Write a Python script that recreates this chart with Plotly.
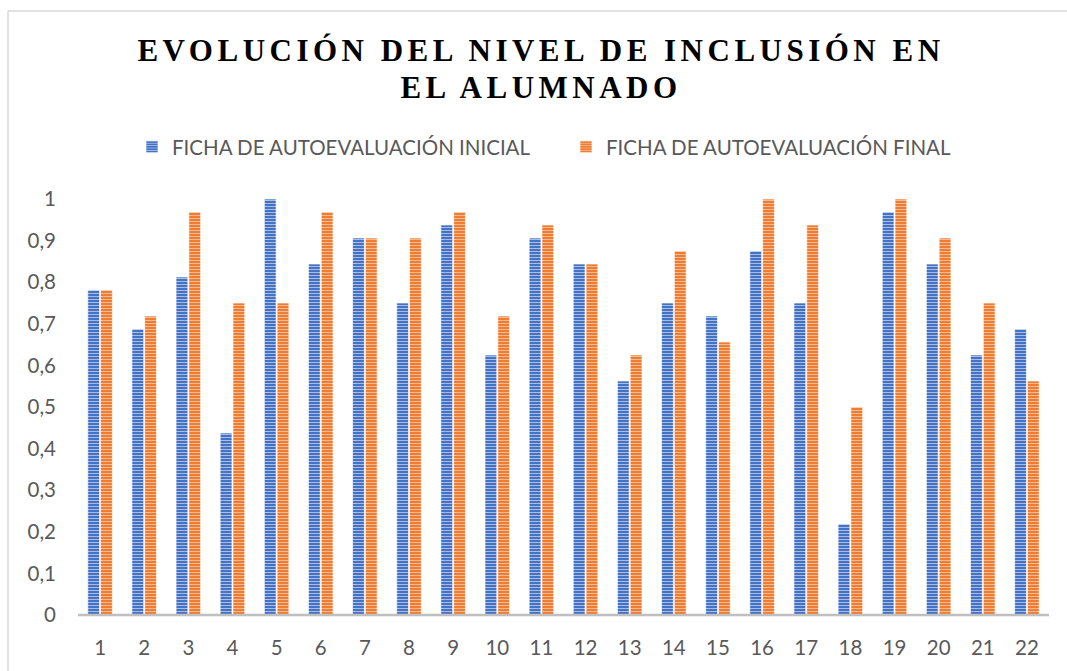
import plotly.graph_objects as go

categories = [str(i) for i in range(1, 23)]
inicial = [0.78125, 0.6875, 0.8125, 0.4375, 1.0, 0.84375, 0.90625, 0.75, 0.9375, 0.625, 0.90625,
           0.84375, 0.5625, 0.75, 0.71875, 0.875, 0.75, 0.21875, 0.96875, 0.84375, 0.625, 0.6875]
final = [0.78125, 0.71875, 0.96875, 0.75, 0.75, 0.96875, 0.90625, 0.90625, 0.96875, 0.71875, 0.9375,
         0.84375, 0.625, 0.875, 0.65625, 1.0, 0.9375, 0.5, 1.0, 0.90625, 0.75, 0.5625]
y_ticks = [0, 0.1, 0.2, 0.3, 0.4, 0.5, 0.6, 0.7, 0.8, 0.9, 1]
series_names = ["FICHA DE AUTOEVALUACIÓN INICIAL", "FICHA DE AUTOEVALUACIÓN FINAL"]
title_text = "EVOLUCIÓN DEL NIVEL DE INCLUSIÓN EN<br>EL ALUMNADO"

W, H = 1067, 671
L, R, T, B = 78, 1049, 199, 615

def px(x):
    return (x - L) / (R - L)

def py(y):
    return (B - y) / (B - T)

fig = go.Figure()
fig.add_trace(go.Bar(
    x=categories, y=inicial, name=series_names[0],
    marker=dict(color="#4472C4",
                line=dict(color="rgba(255,255,255,0.8)", width=0.8),
                pattern=dict(shape="-", fgcolor="#a8bde6", bgcolor="#4472C4",
                             size=3, solidity=0.35, fillmode="replace")),
))
fig.add_trace(go.Bar(
    x=categories, y=final, name=series_names[1],
    marker=dict(color="#ED7D31",
                line=dict(color="rgba(255,255,255,0.8)", width=0.8),
                pattern=dict(shape="-", fgcolor="#f7b994", bgcolor="#ED7D31",
                             size=3, solidity=0.35, fillmode="replace")),
))

fig.update_layout(
    width=W, height=H,
    margin=dict(l=L, r=W - R, t=T, b=H - B, autoexpand=False),
    paper_bgcolor="white", plot_bgcolor="white",
    separators=",.",
    barmode="group", bargap=0.42, bargroupgap=0.08,
    title=dict(text=title_text, x=541 / W, xanchor="center", xref="container",
               y=1 - 61 / H, yanchor="top", yref="container",
               font=dict(family="Liberation Serif", size=31, color="black", weight="bold")),
    legend=dict(orientation="h", xref="container", yref="container",
                x=132 / W, xanchor="left", y=1 - 147 / H, yanchor="middle",
                entrywidth=389, entrywidthmode="pixels",
                font=dict(family="Lato", size=20.5, color="#595959"),
                itemclick=False, itemdoubleclick=False),
    xaxis=dict(showgrid=False, showline=False, ticks="", zeroline=False,
               ticklabelstandoff=18,
               tickfont=dict(family="Lato", size=20.5, color="#595959")),
    yaxis=dict(range=[0, 1], tickvals=y_ticks, showgrid=False, showline=False, zeroline=False,
               ticks="", ticklabelstandoff=21, tickformat=".1~f",
               tickfont=dict(family="Lato", size=20.5, color="#595959")),
    shapes=[
        dict(type="line", xref="paper", yref="paper", x0=0, x1=1, y0=0, y1=0,
             line=dict(color="#bfbfbf", width=2.5), layer="above"),
        dict(type="line", xref="paper", yref="paper", x0=px(8), x1=px(1067), y0=py(11), y1=py(11),
             line=dict(color="#d9d9d9", width=1.5)),
        dict(type="line", xref="paper", yref="paper", x0=px(8), x1=px(8), y0=py(11), y1=py(671),
             line=dict(color="#d9d9d9", width=1.5)),
    ],
)

post = """
document.body.style.margin = '0';
document.body.style.overflow = 'hidden';
var g = document.getElementById('{plot_id}');
var t = g.querySelector('.gtitle');
if (t) {
  t.style.letterSpacing = '4.5px';
  var ls = t.querySelectorAll('tspan.line');
  if (ls.length > 1) { ls[1].setAttribute('dy', '1.2em'); }
}
"""
fig.write_html("out.html", post_script=post, config={"displayModeBar": False})
